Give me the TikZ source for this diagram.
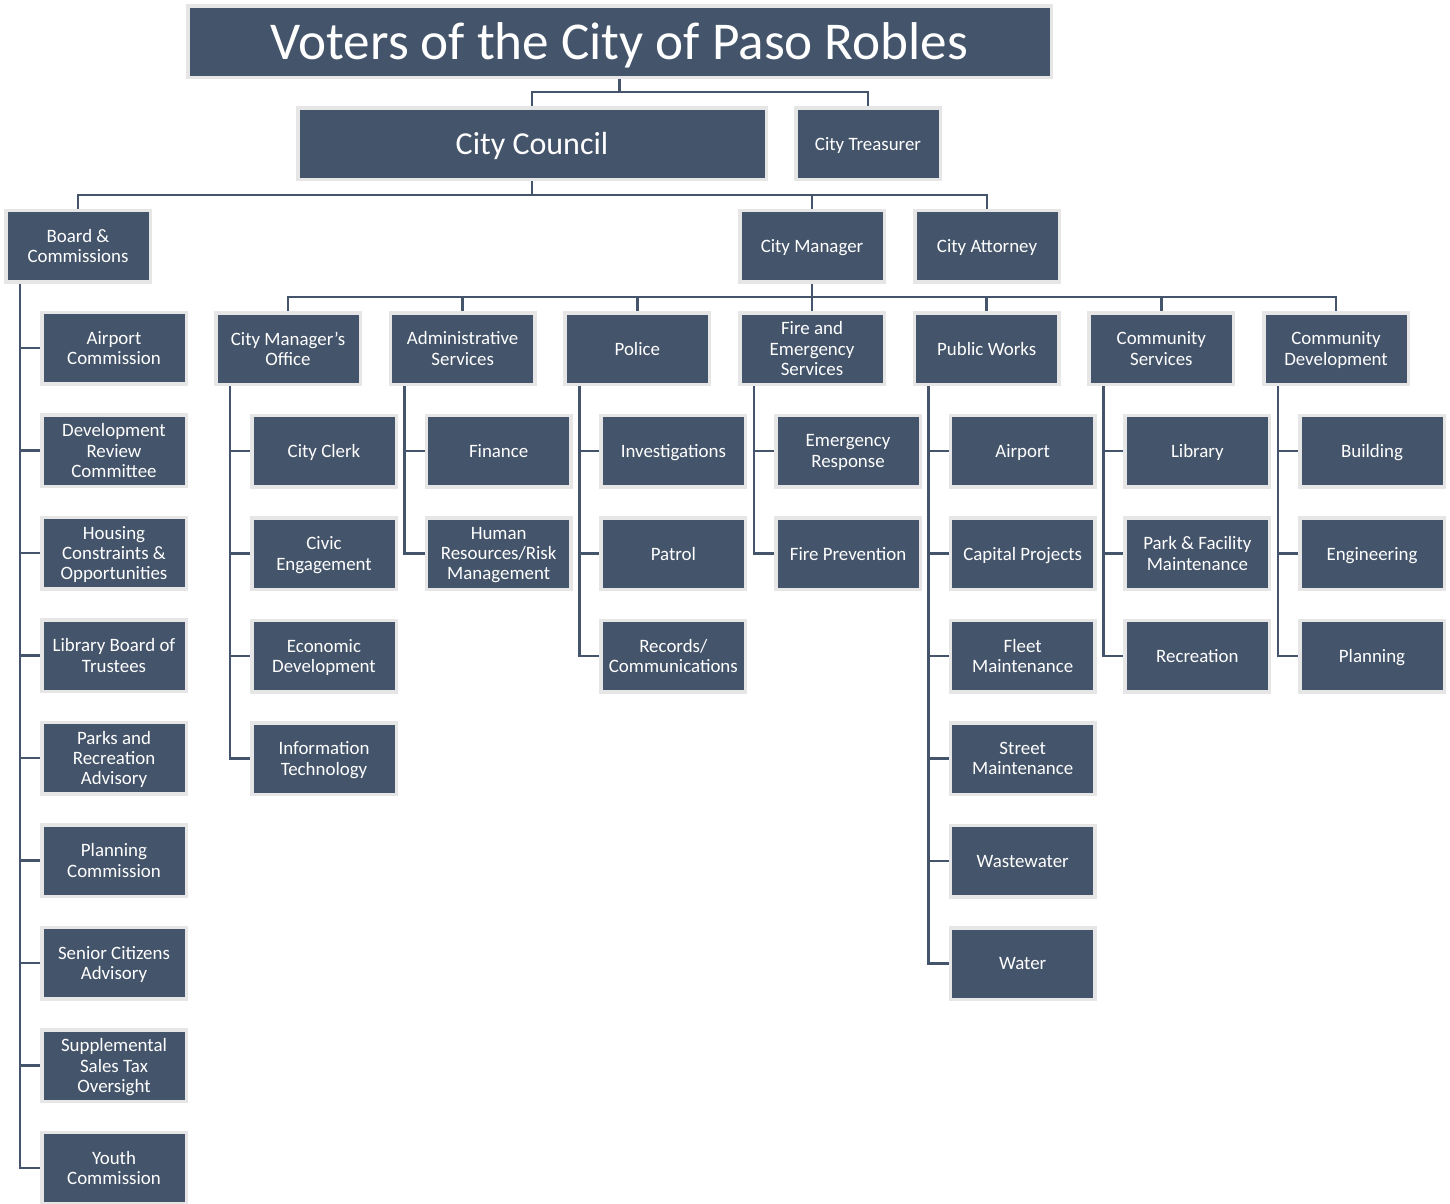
\documentclass[tikz,border=0pt]{standalone}
\usepackage{fontspec}
\setmainfont{Carlito}
\usetikzlibrary{backgrounds}
\definecolor{boxfill}{HTML}{44546A}
\definecolor{boxedge}{HTML}{E6E6E6}
\begin{document}
\begin{tikzpicture}[x=1pt,y=-1pt,
  box/.style={fill=boxfill, draw=boxedge, line width=3.5pt, text=white,
    align=center, inner sep=0pt, minimum width=144.5pt, minimum height=71.5pt,
    text depth=0pt, font=\fontsize{18.9}{20.3}\selectfont},
  conn/.style={draw=boxfill, line width=2.6pt}]
\useasboundingbox (0,0) rectangle (1450,1203);

% top levels
\node[box, minimum width=863.5pt, font=\fontsize{53.2}{56}\selectfont] (title) at (619.5,41.5) {Voters of the City of Paso Robles};
\node[box, minimum width=468.5pt, font=\fontsize{32}{36}\selectfont] (council) at (532,143.5) {City Council};
\node[box] (treas) at (868,143.5) {City Treasurer};
\node[box] (board) at (78,246) {Board \&\\Commissions};
\node[box] (cm) at (812,246) {City Manager};
\node[box] (atty) at (987,246) {City Attorney};

\coordinate (b1) at (0,92);
\coordinate (b2) at (0,195);
\coordinate (b3) at (0,297);

\begin{pgfonlayer}{background}
\draw[conn] (title.south) -- (title.south |- b1);
\draw[conn] (council.north) -- (council.north |- b1) -| (treas.north);
\draw[conn] (council.south) -- (council.south |- b2);
\draw[conn] (board.north) -- (board.north |- b2) -| (atty.north);
\draw[conn] (cm.north) -- (cm.north |- b2);
\draw[conn] (cm.south) -- (cm.south |- b3);
\end{pgfonlayer}

% departments
\foreach \txt [count=\j] in {City Manager's\\Office, Administrative\\Services, Police,
  Fire and\\Emergency\\Services, Public Works, Community\\Services, Community\\Development}{
  \node[box] (d\j) at ({288+(\j-1)*174.67},348.5) {\txt};
}
\begin{pgfonlayer}{background}
\draw[conn] (d1.north) -- (d1.north |- b3) -| (d7.north);
\foreach \j in {2,...,6}{ \draw[conn] (d\j.north) -- (d\j.north |- b3); }
\end{pgfonlayer}

% board children
\foreach \txt [count=\i] in {Airport\\Commission, Development\\Review\\Committee,
  Housing\\Constraints \&\\Opportunities, Library Board of\\Trustees,
  Parks and\\Recreation\\Advisory, Planning\\Commission, Senior Citizens\\Advisory,
  Supplemental\\Sales Tax\\Oversight, Youth\\Commission}{
  \node[box] (bc\i) at (114,{348+(\i-1)*102.5}) {\txt};
  \begin{pgfonlayer}{background}
  \draw[conn] ([xshift=-58pt]board.south) |- (bc\i.west);
  \end{pgfonlayer}
}

% department children
\newcommand{\subitems}[2]{%
  \foreach \txt [count=\i] in {#2}{
    \path (d#1.center) ++(36,{102.5+(\i-1)*102.5}) node[box] (s#1-\i) {\txt};
    \begin{pgfonlayer}{background}
    \draw[conn] ([xshift=-58pt]d#1.south) |- (s#1-\i.west);
    \end{pgfonlayer}
  }}
\subitems{1}{City Clerk, Civic\\Engagement, Economic\\Development, Information\\Technology}
\subitems{2}{Finance, Human\\Resources/Risk\\Management}
\subitems{3}{Investigations, Patrol, Records/\\Communications}
\subitems{4}{Emergency\\Response, Fire Prevention}
\subitems{5}{Airport, Capital Projects, Fleet\\Maintenance, Street\\Maintenance, Wastewater, Water}
\subitems{6}{Library, Park \& Facility\\Maintenance, Recreation}
\subitems{7}{Building, Engineering, Planning}
\end{tikzpicture}
\end{document}
